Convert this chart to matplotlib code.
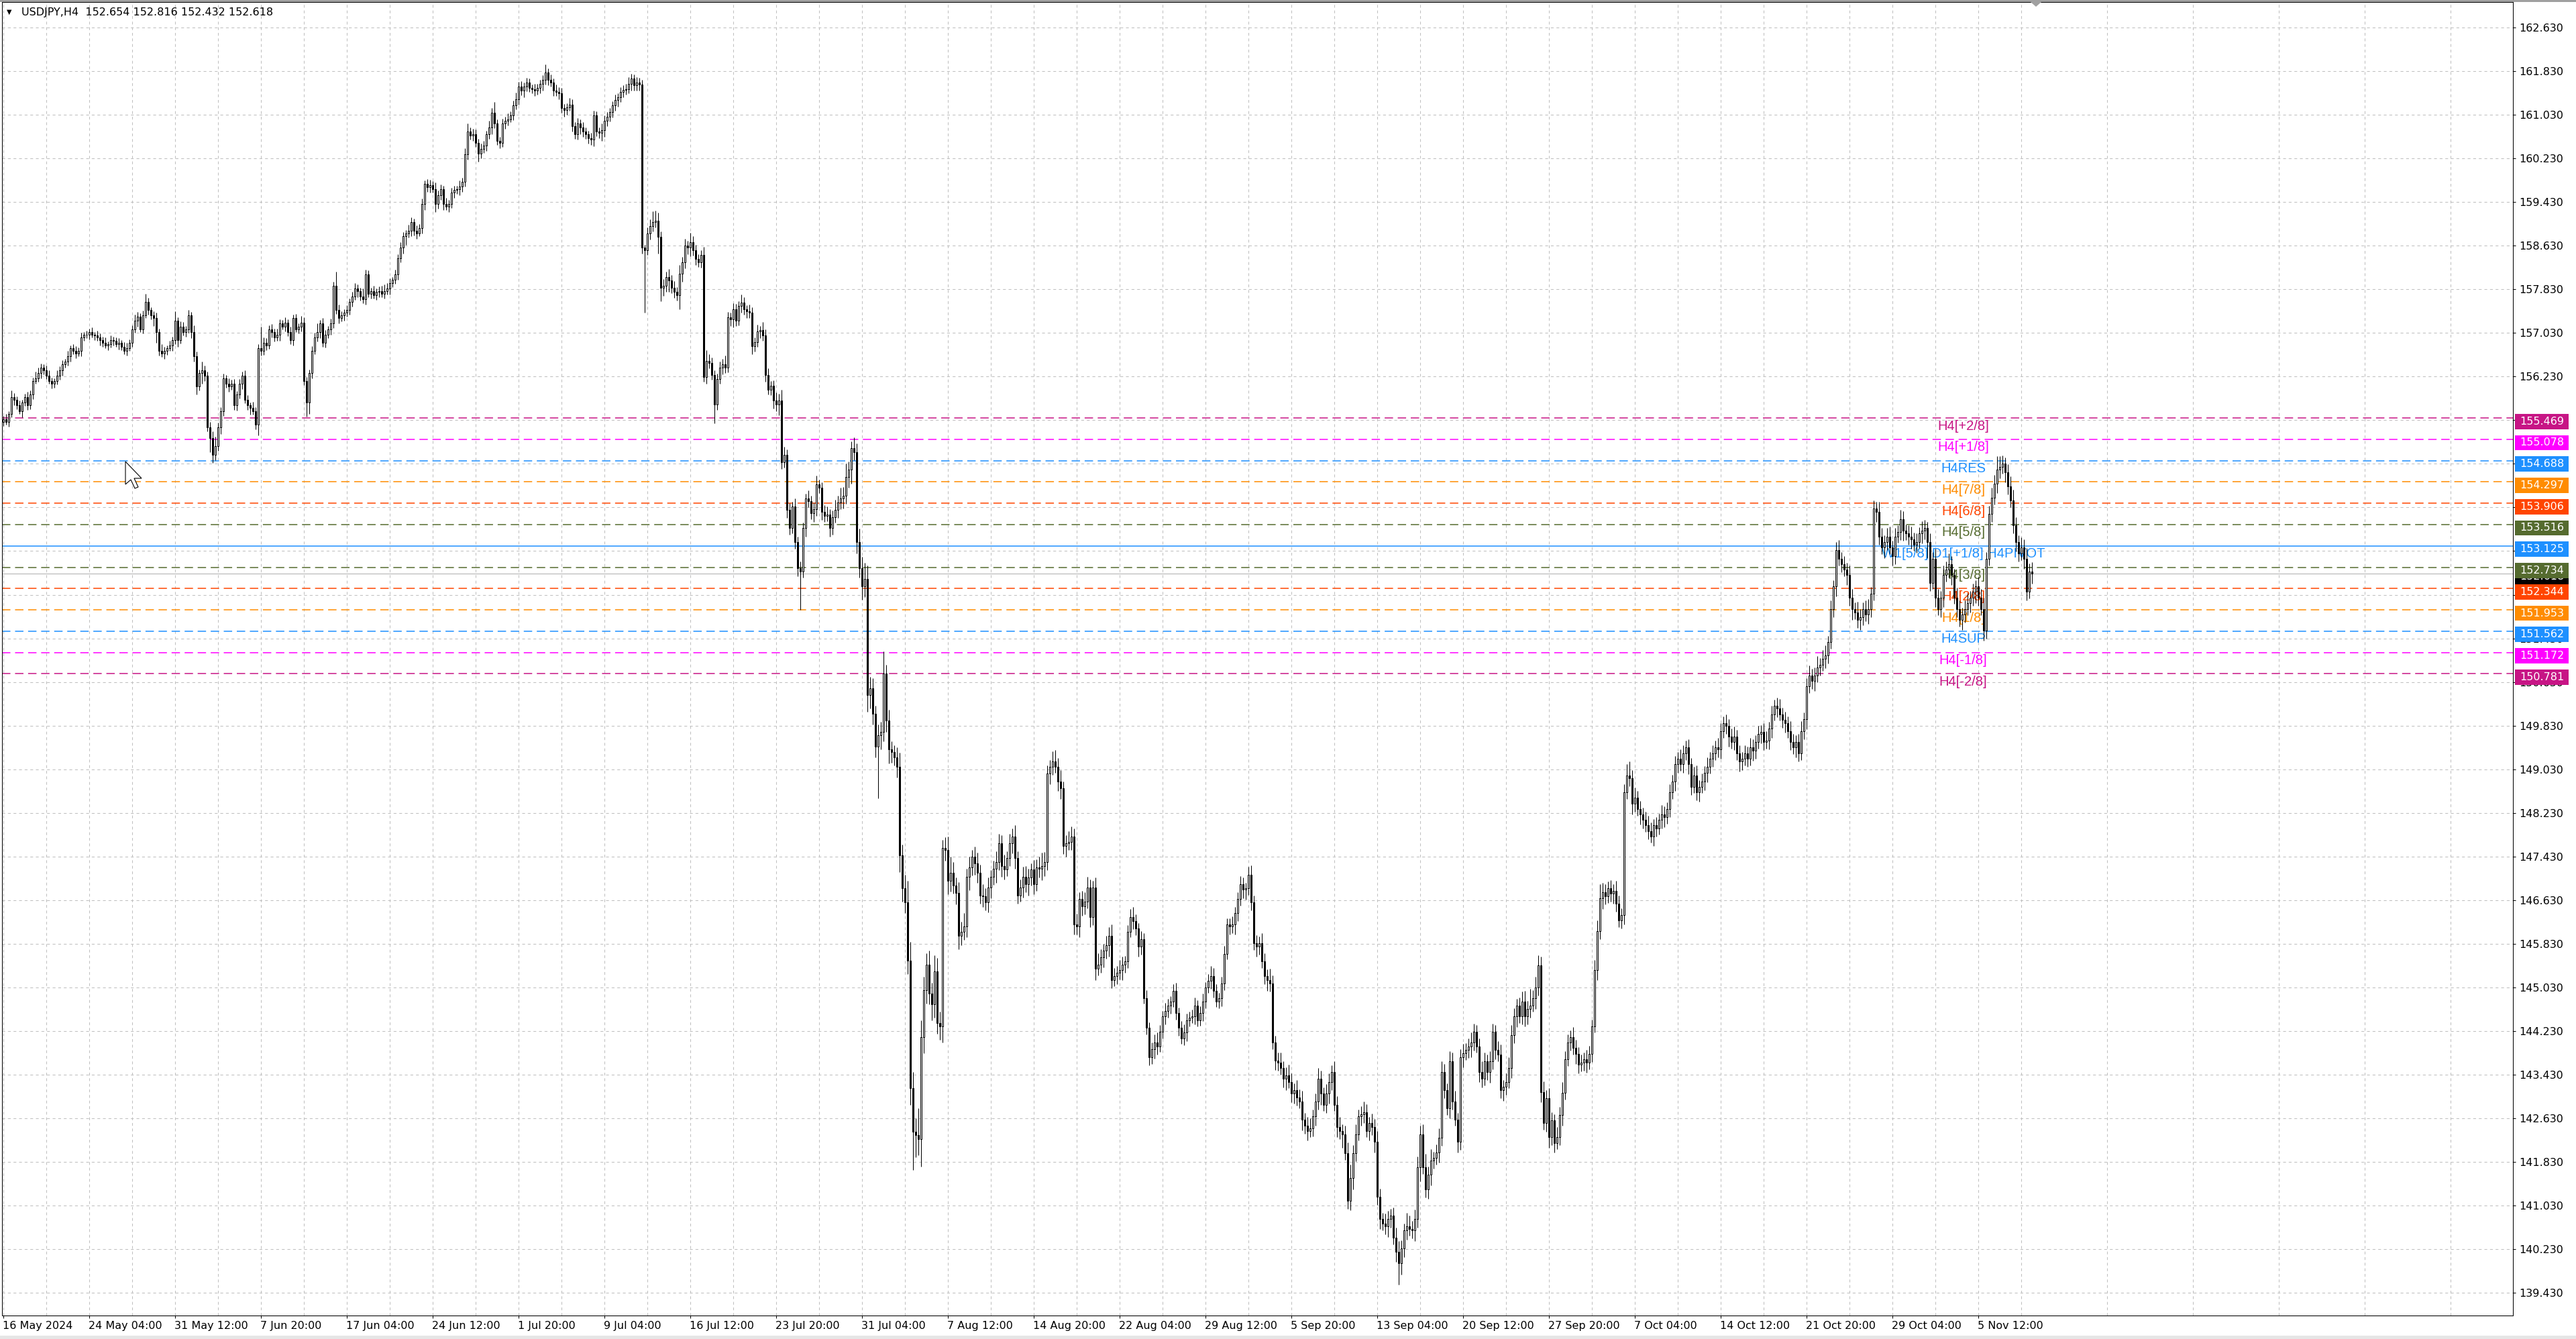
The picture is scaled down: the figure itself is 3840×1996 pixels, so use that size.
import matplotlib
matplotlib.use("Agg")
import matplotlib.pyplot as plt
import matplotlib.patches as mpatches
import matplotlib.transforms as mtrans
import numpy as np

plt.rcParams["font.family"] = ["DejaVu Sans"]
plt.rcParams["lines.scale_dashes"] = False

# ---------------- values ----------------
header_text = "USDJPY,H4  152.654 152.816 152.432 152.618"
first_open = 155.40

# H4 closes, one list per month (16 May 20:00 .. 8 Nov 20:00)
close_may = [
    155.45, 155.40, 155.55, 155.85, 155.80, 155.70, 155.60, 155.75, 155.85, 155.70,
    155.90, 156.15, 156.20, 156.30, 156.40, 156.35, 156.25, 156.15, 156.10, 156.15,
    156.25, 156.35, 156.45, 156.50, 156.60, 156.75, 156.70, 156.65, 156.70, 156.95,
    157.00, 157.00, 157.05, 157.00, 156.98, 156.95, 156.90, 156.85, 156.80, 156.82,
    156.90, 156.88, 156.83, 156.85, 156.78, 156.70, 156.75, 156.85, 157.10, 157.25,
    157.33, 157.10, 157.35, 157.60, 157.45, 157.35, 157.30, 157.05, 156.70, 156.65,
    156.70, 156.75, 156.80, 156.90, 157.25, 156.90, 157.15]
close_jun = [
    157.05, 157.10, 157.35, 157.05, 156.60, 156.05, 156.30, 156.35, 156.25, 155.30,
    155.10, 154.80, 154.95, 155.30, 155.60, 156.20, 156.10, 156.05, 156.10, 155.70,
    155.90, 156.10, 156.25, 155.80, 155.70, 155.65, 155.60, 155.35, 156.75, 156.70,
    156.85, 156.80, 157.10, 157.05, 156.95, 157.00, 157.20, 157.15, 157.22, 157.05,
    156.90, 157.30, 157.10, 157.15, 157.22, 156.15, 155.75, 156.30, 156.70, 156.95,
    157.05, 157.20, 156.85, 157.00, 157.10, 157.20, 157.90, 157.45, 157.30, 157.35,
    157.40, 157.45, 157.60, 157.70, 157.85, 157.80, 157.70, 157.65, 158.10, 157.75,
    157.80, 157.72, 157.78, 157.80, 157.75, 157.80, 157.85, 157.95, 158.00, 158.10,
    158.40, 158.60, 158.80, 158.85, 158.90, 159.06, 158.90, 158.86, 158.95, 159.40,
    159.77, 159.70, 159.74, 159.67, 159.40, 159.55, 159.67, 159.40, 159.35, 159.40,
    159.60, 159.65, 159.67, 159.72, 159.80, 160.30, 160.72, 160.65, 160.67, 160.52,
    160.32, 160.40, 160.47, 160.67, 160.80, 161.07, 160.87, 160.55, 160.52, 160.87]
close_jul = [
    160.92, 160.95, 161.02, 161.20, 161.32, 161.55, 161.47, 161.55, 161.62, 161.52,
    161.50, 161.47, 161.52, 161.60, 161.67, 161.80, 161.67, 161.62, 161.47, 161.45,
    161.42, 161.15, 161.12, 161.17, 161.22, 160.82, 160.67, 160.87, 160.80, 160.72,
    160.67, 160.60, 160.57, 161.02, 160.72, 160.70, 160.75, 160.92, 160.99, 161.08,
    161.20, 161.30, 161.35, 161.45, 161.49, 161.50, 161.60, 161.70, 161.57, 161.62,
    161.59, 158.59, 158.55, 158.86, 158.99, 159.06, 159.09, 158.79, 157.86, 157.90,
    158.06, 157.99, 157.86, 157.79, 157.72, 158.12, 158.32, 158.63, 158.59, 158.69,
    158.55, 158.39, 158.33, 158.46, 156.22, 156.52, 156.48, 156.26, 155.72, 156.19,
    156.39, 156.46, 156.39, 157.32, 157.28, 157.46, 157.26, 157.52, 157.59, 157.46,
    157.43, 157.40, 156.79, 156.86, 157.06, 157.08, 156.99, 156.26, 155.99, 156.06,
    155.79, 155.72, 155.79, 154.66, 154.79, 153.79, 153.45, 153.85, 153.19, 152.72,
    152.65, 153.45, 153.99, 153.95, 153.72, 153.80, 154.26, 154.19, 153.75, 153.68,
    153.70, 153.45, 153.65, 153.79, 153.92, 153.99, 154.05, 154.39, 154.52, 154.92,
    154.85, 153.19, 152.72, 152.39, 152.52, 150.39, 150.52, 150.05]
close_aug = [
    149.45, 149.65, 149.72, 150.79, 149.92, 149.39, 149.35, 149.25, 149.08, 147.45,
    146.85, 146.59, 145.52, 143.18, 142.38, 142.32, 142.25, 144.12, 144.98, 145.45,
    144.92, 144.72, 145.32, 144.38, 144.32, 147.59, 147.55, 146.99, 147.13, 146.90,
    146.76, 145.98, 146.05, 146.15, 147.06, 147.23, 147.43, 147.30, 147.13, 146.72,
    146.70, 146.59, 146.86, 147.06, 147.20, 147.33, 147.67, 147.26, 147.19, 147.40,
    147.67, 147.80, 147.40, 146.72, 146.86, 147.06, 146.92, 147.05, 147.19, 146.92,
    147.23, 147.20, 147.25, 147.33, 148.95, 149.08, 149.18, 149.08, 148.81, 148.68,
    147.63, 147.67, 147.70, 147.80, 146.18, 146.15, 146.65, 146.52, 146.60, 146.86,
    146.32, 146.86, 145.37, 145.45, 145.58, 145.71, 145.80, 145.98, 145.17, 145.24,
    145.30, 145.35, 145.45, 145.51, 146.05, 146.32, 146.25, 146.11, 145.78, 145.91,
    144.83, 144.29, 143.75, 143.90, 144.02, 143.95, 144.22, 144.50, 144.60, 144.70,
    144.77, 144.97, 144.56, 144.29, 144.09, 144.20, 144.43, 144.48, 144.50, 144.70,
    144.43, 144.56, 144.77, 145.03, 145.15, 145.24, 144.97, 144.77, 144.83, 145.10,
    145.64, 146.18]
close_sep = [
    146.15, 146.18, 146.40, 146.65, 146.92, 146.82, 146.85, 147.09, 146.59, 145.84,
    145.78, 145.84, 145.51, 145.24, 145.17, 145.10, 144.02, 143.69, 143.65, 143.55,
    143.35, 143.42, 143.30, 143.08, 143.15, 143.01, 142.94, 142.61, 142.50, 142.40,
    142.45, 142.67, 142.94, 143.35, 143.08, 142.88, 143.08, 143.30, 143.48, 142.88,
    142.47, 142.40, 142.34, 141.99, 141.12, 141.53, 141.99, 142.34, 142.67, 142.70,
    142.74, 142.40, 142.54, 142.47, 142.20, 141.19, 140.78, 140.70, 140.65, 140.78,
    140.85, 140.44, 140.18, 139.97, 140.24, 140.58, 140.65, 140.60, 140.58, 140.78,
    141.73, 142.34, 141.73, 141.33, 141.60, 141.86, 141.90, 142.00, 142.27, 143.48,
    143.15, 142.81, 143.68, 142.94, 142.61, 142.20, 143.75, 143.82, 143.89, 143.95,
    144.02, 144.22, 143.95, 143.48, 143.35, 143.68, 143.48, 143.68, 144.22, 143.89,
    143.80, 143.15, 143.21, 143.30, 143.55, 144.16, 144.50, 144.70, 144.50, 144.77,
    144.50, 144.63, 144.70, 144.83, 145.03, 145.44, 143.11, 142.54, 143.00, 142.29,
    142.59, 142.18, 142.29, 142.69, 143.10, 143.71]
close_oct = [
    144.02, 144.12, 143.92, 143.81, 143.61, 143.65, 143.71, 143.65, 143.81, 144.32,
    145.35, 146.06, 146.67, 146.77, 146.70, 146.85, 146.75, 146.80, 146.57, 146.26,
    146.36, 148.61, 148.92, 148.87, 148.40, 148.51, 148.30, 148.20, 148.10, 148.00,
    147.90, 147.80, 148.00, 147.95, 148.10, 148.20, 148.15, 148.30, 148.61, 148.81,
    149.12, 149.22, 149.12, 149.32, 149.43, 149.12, 148.71, 148.92, 148.61, 148.71,
    148.80, 148.97, 149.07, 149.22, 149.32, 149.43, 149.40, 149.73, 149.88, 149.83,
    149.63, 149.53, 149.63, 149.32, 149.17, 149.22, 149.32, 149.22, 149.43, 149.37,
    149.53, 149.68, 149.72, 149.53, 149.55, 149.78, 150.04, 150.19, 150.14, 150.04,
    149.94, 149.88, 149.73, 149.53, 149.43, 149.53, 149.32, 149.73, 149.95, 150.55,
    150.75, 150.65, 150.75, 150.90, 150.95, 151.06, 151.12, 151.36, 151.97, 152.38,
    153.05, 152.89, 152.79, 152.69, 152.59, 152.18, 151.97, 151.90, 151.77, 151.82,
    151.97, 151.87, 151.97, 152.25, 153.81, 153.75, 153.30, 153.10, 153.20, 153.30,
    153.10, 152.94, 153.30, 153.38, 153.61, 153.40, 153.35, 153.30, 153.25, 153.15,
    153.20, 153.35, 153.40, 153.45, 153.20, 152.45, 152.89, 152.18]
close_nov = [
    151.97, 152.18, 152.59, 152.69, 152.79, 152.59, 152.18, 151.97, 151.77, 151.87,
    151.97, 152.08, 152.18, 152.28, 152.38, 152.18, 151.97, 151.57, 152.89, 153.71,
    154.01, 154.27, 154.52, 154.57, 154.63, 154.47, 154.22, 153.96, 153.50, 153.20,
    152.99, 153.10, 152.89, 152.28, 152.654, 152.618]

# wick lengths above / below the body, in 0.01 yen
wick_up_may = [6, 10, 5, 12, 8, 6, 9, 5, 7, 10, 8, 6, 12, 9, 7, 5, 8, 10, 6, 5,
               9, 7, 8, 6, 10, 5, 7, 9, 6, 8, 5, 7, 6, 8, 5, 9, 7, 6, 10, 5,
               8, 6, 7, 9, 5, 8, 10, 6, 7, 12, 8, 6, 9, 15, 7, 5, 8, 10, 6, 12,
               7, 5, 9, 6, 18, 7, 9]
wick_dn_may = [8, 5, 9, 6, 10, 7, 5, 12, 6, 8, 7, 9, 5, 6, 10, 8, 6, 5, 9, 7,
               6, 8, 10, 5, 7, 9, 6, 8, 5, 10, 7, 6, 9, 5, 8, 6, 10, 7, 5, 9,
               6, 8, 5, 10, 7, 6, 9, 5, 8, 7, 10, 6, 8, 5, 9, 7, 14, 20, 8, 6,
               9, 7, 5, 10, 8, 12, 6]
wick_up_jun = [8, 6, 10, 7, 12, 9, 6, 15, 8, 7, 10, 12, 18, 9, 7, 8, 6, 10, 7, 9,
               6, 8, 7, 10, 9, 6, 12, 7, 8, 40, 10, 8, 7, 9, 6, 11, 8, 7, 10, 6,
               9, 7, 8, 6, 12, 10, 7, 6, 9, 8, 15, 7, 10, 8, 6, 9, 7, 25, 10, 8,
               7, 9, 6, 8, 10, 7, 6, 15, 9, 8, 6, 10, 7, 8, 9, 12, 10, 8, 6, 9,
               7, 10, 8, 6, 12, 9, 7, 10, 8, 9, 6, 8, 10, 7, 12, 9, 8, 6, 10, 7,
               9, 8, 6, 10, 7, 12, 15, 8, 10, 9, 7, 10, 8, 6, 12, 9, 20, 8, 7, 9]
wick_dn_jun = [6, 9, 7, 12, 10, 15, 8, 20, 10, 7, 25, 15, 10, 8, 12, 9, 7, 10, 6, 8,
               9, 7, 10, 6, 8, 12, 7, 9, 20, 8, 7, 9, 6, 10, 8, 7, 12, 6, 9, 8,
               7, 10, 6, 8, 9, 7, 25, 20, 10, 6, 8, 12, 7, 9, 6, 10, 8, 7, 9, 6,
               10, 7, 8, 9, 6, 12, 7, 8, 10, 7, 9, 6, 8, 10, 7, 9, 6, 12, 8, 7,
               10, 8, 12, 15, 7, 9, 8, 10, 6, 9, 12, 8, 10, 7, 15, 9, 8, 12, 7, 10,
               8, 9, 7, 12, 10, 8, 9, 7, 10, 8, 15, 9, 7, 10, 8, 12, 9, 7, 10, 8]
wick_up_jul = [8, 10, 7, 9, 12, 8, 10, 7, 9, 8, 6, 10, 8, 7, 9, 15, 8, 10, 7, 12,
               9, 10, 8, 7, 12, 9, 8, 10, 7, 9, 8, 6, 10, 9, 7, 8, 12, 10, 9, 7,
               8, 10, 7, 9, 8, 10, 12, 8, 7, 10, 9, 8, 6, 10, 12, 20, 18, 15, 10, 12,
               9, 14, 10, 12, 8, 15, 10, 12, 9, 18, 12, 10, 8, 9, 15, 20, 12, 10, 8, 9,
               12, 10, 15, 9, 8, 12, 10, 9, 15, 10, 8, 12, 10, 9, 12, 8, 15, 10, 12, 9,
               10, 15, 12, 20, 15, 10, 12, 9, 15, 10, 12, 10, 9, 15, 10, 12, 15, 8, 10, 12,
               15, 10, 12, 18, 12, 20, 15, 25, 15, 12, 20, 15, 25, 20, 30, 25, 20, 18]
wick_dn_jul = [10, 8, 6, 9, 7, 10, 8, 12, 9, 7, 8, 10, 7, 9, 12, 8, 10, 7, 9, 8,
               10, 8, 12, 9, 7, 10, 8, 9, 12, 10, 8, 10, 9, 12, 8, 10, 15, 12, 10, 8,
               10, 9, 12, 8, 10, 9, 8, 12, 10, 9, 12, 10, 115, 9, 12, 10, 9, 30, 25, 15,
               12, 20, 10, 12, 9, 25, 15, 10, 12, 15, 10, 12, 9, 10, 8, 12, 10, 9, 35, 10,
               9, 12, 10, 8, 12, 15, 10, 9, 12, 10, 12, 10, 15, 10, 9, 12, 10, 12, 9, 10,
               15, 12, 20, 12, 10, 15, 12, 10, 12, 15, 70, 10, 15, 12, 10, 15, 12, 10, 15, 12,
               10, 15, 12, 10, 15, 12, 18, 15, 20, 25, 15, 20, 18, 25, 20, 30, 25, 20]
wick_up_aug = [15, 20, 18, 40, 15, 20, 15, 12, 18, 25, 20, 25, 40, 35, 30, 25, 50, 30, 25, 20,
               25, 20, 30, 25, 20, 15, 20, 25, 30, 20, 15, 20, 18, 25, 15, 20, 12, 18, 20, 15,
               20, 15, 18, 12, 15, 20, 18, 15, 20, 12, 18, 15, 20, 12, 15, 18, 20, 15, 12, 18,
               15, 20, 25, 18, 15, 12, 18, 20, 15, 20, 12, 15, 20, 18, 15, 20, 12, 15, 18, 20,
               15, 12, 18, 20, 15, 12, 18, 15, 20, 15, 12, 18, 15, 10, 12, 15, 18, 12, 10, 15,
               12, 15, 10, 12, 15, 18, 12, 10, 15, 12, 10, 12, 15, 10, 12, 15, 12, 10, 12, 15,
               10, 12, 15, 10, 12, 18, 15, 12, 10, 12, 15, 12]
wick_dn_aug = [20, 95, 25, 18, 20, 25, 20, 15, 20, 30, 25, 20, 25, 30, 70, 40, 30, 50, 30, 25,
               20, 30, 25, 20, 25, 30, 20, 25, 20, 15, 20, 25, 18, 15, 20, 25, 15, 20, 18, 15,
               20, 15, 18, 20, 15, 25, 15, 20, 18, 12, 15, 18, 20, 15, 12, 18, 15, 20, 15, 18,
               12, 15, 20, 18, 15, 20, 15, 12, 18, 20, 15, 20, 12, 15, 18, 15, 20, 18, 15, 12,
               18, 15, 20, 12, 15, 18, 15, 20, 15, 12, 15, 12, 18, 15, 12, 10, 15, 12, 18, 15,
               10, 12, 15, 12, 18, 15, 10, 12, 15, 12, 15, 10, 12, 15, 10, 12, 15, 12, 10, 15,
               12, 10, 15, 12, 10, 15, 12, 10, 12, 15, 12, 10]
wick_up_sep = [12, 15, 10, 12, 15, 12, 10, 15, 18, 12, 15, 12, 18, 15, 12, 20, 15, 12, 15, 18,
               12, 15, 20, 15, 12, 18, 15, 20, 12, 15, 18, 12, 15, 20, 15, 12, 18, 15, 12, 20,
               15, 18, 12, 15, 20, 25, 15, 18, 12, 15, 20, 15, 12, 18, 15, 20, 15, 12, 18, 15,
               12, 15, 18, 20, 15, 12, 25, 20, 15, 18, 20, 15, 18, 25, 15, 20, 12, 15, 18, 20,
               15, 12, 18, 15, 20, 12, 15, 18, 12, 15, 18, 15, 12, 15, 20, 15, 12, 18, 15, 12,
               15, 18, 12, 15, 20, 18, 15, 12, 15, 18, 20, 15, 30, 15, 20, 18, 15, 20, 15, 18,
               15, 12, 18, 15, 20, 15]
wick_dn_sep = [15, 12, 18, 15, 12, 15, 18, 12, 15, 12, 18, 15, 12, 15, 20, 15, 12, 18, 15, 12,
               15, 20, 12, 15, 18, 15, 12, 20, 15, 18, 12, 15, 18, 15, 20, 12, 15, 18, 15, 12,
               18, 15, 25, 12, 15, 18, 20, 15, 12, 18, 15, 12, 18, 15, 20, 15, 18, 12, 15, 20,
               15, 12, 18, 39, 20, 15, 18, 12, 15, 20, 15, 25, 12, 15, 18, 20, 15, 12, 18, 15,
               15, 12, 18, 15, 12, 20, 15, 18, 12, 15, 20, 15, 12, 18, 15, 12, 15, 20, 15, 18,
               12, 15, 20, 15, 12, 18, 15, 20, 12, 15, 18, 15, 15, 12, 20, 15, 18, 12, 15, 20,
               15, 18, 12, 15, 20, 12]
wick_up_oct = [15, 12, 18, 15, 12, 15, 12, 18, 15, 12, 18, 20, 25, 18, 15, 12, 15, 12, 18, 15,
               12, 15, 20, 25, 15, 18, 12, 15, 12, 15, 18, 15, 12, 15, 12, 18, 15, 12, 15, 12,
               15, 12, 18, 15, 12, 15, 12, 15, 18, 12, 15, 12, 18, 12, 15, 12, 18, 15, 12, 15,
               12, 15, 18, 12, 15, 12, 15, 12, 18, 15, 12, 15, 12, 15, 18, 12, 15, 12, 15, 18,
               12, 15, 12, 18, 15, 12, 15, 18, 12, 15, 18, 12, 15, 20, 12, 15, 18, 12, 15, 12,
               15, 18, 12, 15, 12, 18, 15, 12, 20, 15, 12, 15, 18, 12, 15, 12, 18, 15, 12, 15,
               18, 12, 15, 12, 18, 15, 12, 15, 18, 12, 15, 12, 18, 15, 12, 15, 12, 18]
wick_dn_oct = [12, 15, 12, 18, 15, 12, 15, 18, 12, 15, 12, 18, 15, 20, 15, 12, 15, 18, 15, 12,
               15, 18, 12, 15, 20, 15, 12, 18, 15, 12, 15, 12, 18, 15, 12, 15, 18, 12, 15, 12,
               18, 15, 12, 15, 12, 18, 15, 12, 15, 18, 12, 15, 18, 12, 15, 12, 15, 18, 12, 15,
               18, 12, 15, 12, 18, 15, 12, 15, 12, 18, 15, 12, 18, 15, 12, 15, 18, 12, 15, 12,
               15, 18, 12, 15, 12, 18, 15, 12, 15, 18, 12, 15, 18, 12, 15, 12, 18, 15, 12, 15,
               18, 12, 15, 12, 18, 15, 20, 12, 15, 18, 15, 12, 18, 15, 12, 18, 15, 12, 20, 15,
               12, 18, 15, 12, 15, 18, 12, 15, 18, 12, 15, 12, 18, 15, 30, 15, 12, 18]
wick_up_nov = [15, 12, 18, 15, 20, 15, 12, 18, 15, 12, 15, 18, 12, 15, 12, 18, 15, 20, 12, 15,
               18, 15, 25, 20, 15, 12, 15, 18, 20, 15, 12, 18, 15, 20, 15, 17]
wick_dn_nov = [12, 15, 18, 12, 15, 18, 12, 15, 12, 18, 15, 12, 18, 15, 20, 15, 12, 18, 15, 12,
               15, 12, 18, 15, 12, 18, 15, 12, 15, 18, 15, 12, 18, 15, 12, 19]

x_tick_labels = ["16 May 2024", "24 May 04:00", "31 May 12:00", "7 Jun 20:00",
                 "17 Jun 04:00", "24 Jun 12:00", "1 Jul 20:00", "9 Jul 04:00",
                 "16 Jul 12:00", "23 Jul 20:00", "31 Jul 04:00", "7 Aug 12:00",
                 "14 Aug 20:00", "22 Aug 04:00", "29 Aug 12:00", "5 Sep 20:00",
                 "13 Sep 04:00", "20 Sep 12:00", "27 Sep 20:00", "7 Oct 04:00",
                 "14 Oct 12:00", "21 Oct 20:00", "29 Oct 04:00", "5 Nov 12:00"]
price_ticks = [139.43, 140.23, 141.03, 141.83, 142.63, 143.43, 144.23, 145.03,
               145.83, 146.63, 147.43, 148.23, 149.03, 149.83, 150.63, 151.43,
               152.23, 153.03, 153.83, 154.63, 155.43, 156.23, 157.03, 157.83,
               158.63, 159.43, 160.23, 161.03, 161.83, 162.63]

level_prices = [155.469, 155.078, 154.688, 154.297, 153.906, 153.516, 153.125,
                152.734, 152.344, 151.953, 151.562, 151.172, 150.781]
level_names = ["H4[+2/8]", "H4[+1/8]", "H4RES", "H4[7/8]", "H4[6/8]", "H4[5/8]",
               "W1[5/8] D1[+1/8] H4PIVOT", "H4[3/8]", "H4[2/8]", "H4[1/8]",
               "H4SUP", "H4[-1/8]", "H4[-2/8]"]
level_colors = ["#C71585", "#FF00FF", "#1E90FF", "#FF8C00", "#FF4500", "#556B2F",
                "#1E90FF", "#556B2F", "#FF4500", "#FF8C00", "#1E90FF", "#FF00FF",
                "#C71585"]
level_solid = [False, False, False, False, False, False, True,
               False, False, False, False, False, False]
bid_price = 152.618

# ---------------- OHLC ----------------
closes = np.array(close_may + close_jun + close_jul + close_aug + close_sep + close_oct + close_nov)
wick_up = np.array(wick_up_may + wick_up_jun + wick_up_jul + wick_up_aug + wick_up_sep
                   + wick_up_oct + wick_up_nov) / 100.0
wick_dn = np.array(wick_dn_may + wick_dn_jun + wick_dn_jul + wick_dn_aug + wick_dn_sep
                   + wick_dn_oct + wick_dn_nov) / 100.0
n = len(closes)
opens = np.concatenate([[first_open], closes[:-1]])
highs = np.maximum(opens, closes) + wick_up[:n]
lows = np.minimum(opens, closes) - wick_dn[:n]
xs = np.arange(n)

# ---------------- figure geometry (pixels of a 3840x1996 screenshot) ----------------
W, H = 3840, 1996
fig = plt.figure(figsize=(W / 100, H / 100), dpi=100)
fig.patch.set_facecolor("white")
ax = fig.add_axes([3 / W, 1 - 1961 / H, 3743 / W, 1958 / H])
px_per_bar = 4.0
px_per_yen = 81.3

# candles
ax.vlines(xs, lows, highs, colors="black", linewidth=0.75, zorder=3)
bull = closes >= opens
ax.bar(xs, np.abs(closes - opens), bottom=np.minimum(opens, closes), width=0.5,
       color=np.where(bull, "white", "black"), edgecolor="black", linewidth=0.75, zorder=4)

# level lines and labels
label_x = 730.5
for p, name, col, solid in zip(level_prices, level_names, level_colors, level_solid):
    ax.axhline(p, color=col, linewidth=1.1, linestyle="-" if solid else (0, (9, 5)), zorder=2)
    ax.text(label_x, p - 12 / px_per_yen, name, color=col, ha="center", va="center",
            fontsize=14.5, family=["Liberation Sans", "DejaVu Sans"], zorder=2.6)
ax.axhline(bid_price, color="#c0c0c0", linewidth=1.0, zorder=1.9)

# axes styling
ax.set_xlim(-0.375, -0.375 + 3743 / px_per_bar)
ax.set_ylim(139.014, 139.014 + 1958 / px_per_yen)
for sp in ax.spines.values():
    sp.set_linewidth(0.75)
    sp.set_color("black")

ax.yaxis.tick_right()
ax.set_yticks(price_ticks)
ax.set_yticklabels([f"{v:.3f}" for v in price_ticks])
ax.tick_params(axis="y", direction="out", length=3, width=0.75, pad=4, labelsize=11.5)

major_x = [32 * k for k in range(len(x_tick_labels))]
ax.set_xticks(major_x)
ax.set_xticklabels(x_tick_labels)
for lab in ax.get_xticklabels():
    lab.set_ha("left")
ax.set_xticks([16 + 32 * k for k in range(29)], minor=True)
ax.tick_params(axis="x", which="major", direction="out", length=3, width=0.75, pad=3, labelsize=11.5)
ax.tick_params(axis="x", which="minor", length=0)
ax.set_axisbelow(True)
ax.grid(True, axis="x", which="both", color="#c0c0c0", linestyle=(0, (3, 3)), linewidth=0.75)
ax.grid(True, axis="y", which="major", color="#c0c0c0", linestyle=(0, (3, 3)), linewidth=0.75)

# price boxes on the right scale
blend = mtrans.blended_transform_factory(fig.transFigure, ax.transData)
box_h = 22.7 / px_per_yen
box_shift = 5 / px_per_yen


def price_box(p, col, z):
    ax.add_patch(mpatches.Rectangle((3749 / W, p - box_shift - box_h / 2), 80 / W, box_h,
                                    transform=blend, facecolor=col, edgecolor="none",
                                    clip_on=False, zorder=z))
    ax.text(3756 / W, p - box_shift, f"{p:.3f}", transform=blend, color="white",
            fontsize=11.5, ha="left", va="center", clip_on=False, zorder=z + 0.5)


price_box(bid_price, "black", 8)
for p, col in zip(level_prices, level_colors):
    price_box(p, col, 9)

# header
fig.text(32 / W, 1 - 18 / H, header_text, fontsize=11.5, ha="left", va="center")
fig.text(10 / W, 1 - 18 / H, "\u25BC", fontsize=7, ha="left", va="center")

# window frame bits, shift marker and mouse pointer
px = mtrans.Affine2D().scale(1 / W, -1 / H).translate(0, 1) + fig.transFigure
fig.add_artist(mpatches.Rectangle((0, 0), W, 3, transform=px, facecolor="#a0a0a0", edgecolor="none"))
fig.add_artist(mpatches.Rectangle((0, 1991), W, 5, transform=px, facecolor="#e6e6e6", edgecolor="none"))
fig.add_artist(mpatches.Polygon([(3027, 3), (3043, 3), (3035, 10)], closed=True, transform=px,
                                facecolor="#a0a0a0", edgecolor="none"))
tip_x, tip_y = 187, 688
pointer = [(0, 0), (0, 34), (8, 27), (14, 40), (19, 38), (13, 25), (24, 25)]
fig.add_artist(mpatches.Polygon([(tip_x + a, tip_y + b) for a, b in pointer], closed=True,
                                transform=px, facecolor="white", edgecolor="black", linewidth=0.8))

fig.savefig("out.png", dpi=100, facecolor="white")
